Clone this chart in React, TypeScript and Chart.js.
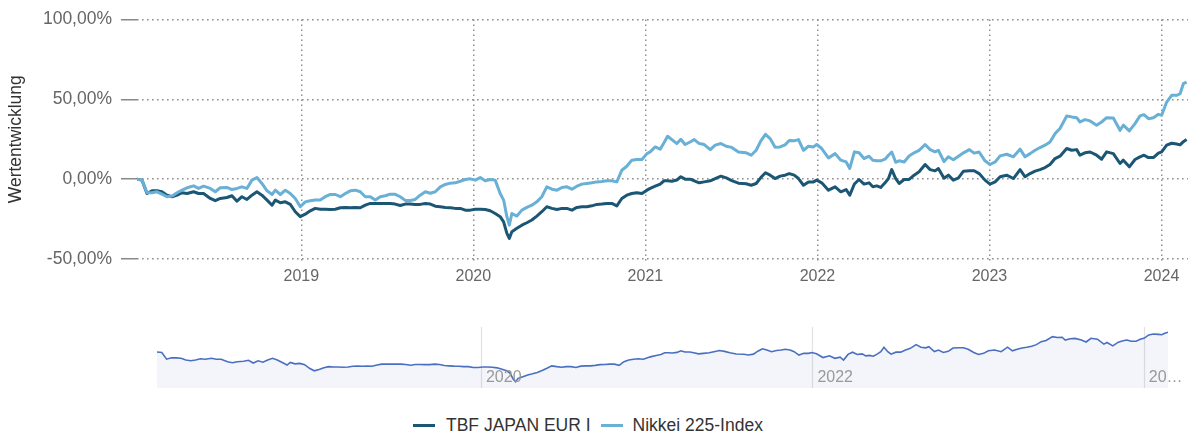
import React, { useEffect, useRef } from "react";
import { Chart, registerables } from "chart.js";

Chart.register(...registerables);

const FONT = "'Liberation Sans', Arial, Helvetica, sans-serif";

// x positions as fractional years
const dates: number[] = [
  2018.045, 2018.074, 2018.103, 2018.132, 2018.161, 2018.19, 2018.219, 2018.249, 2018.278, 2018.307,
  2018.336, 2018.374, 2018.403, 2018.432, 2018.471, 2018.5, 2018.529, 2018.568, 2018.597, 2018.626,
  2018.655, 2018.684, 2018.713, 2018.742, 2018.771, 2018.801, 2018.83, 2018.849, 2018.878, 2018.907,
  2018.936, 2018.965, 2018.994, 2019.023, 2019.052,
  2019.081, 2019.11, 2019.139, 2019.169, 2019.198, 2019.227, 2019.256, 2019.285, 2019.314, 2019.343,
  2019.372, 2019.401, 2019.43, 2019.459, 2019.488, 2019.517, 2019.546, 2019.575, 2019.604, 2019.633,
  2019.662, 2019.691, 2019.721, 2019.75, 2019.779, 2019.808, 2019.837, 2019.866, 2019.895, 2019.924,
  2019.953, 2019.982, 2020.011,
  2020.04, 2020.069, 2020.098, 2020.127, 2020.156, 2020.176, 2020.195, 2020.209, 2020.224, 2020.253,
  2020.282, 2020.311, 2020.34, 2020.369, 2020.398, 2020.427, 2020.457, 2020.486, 2020.515, 2020.544,
  2020.573, 2020.602, 2020.631, 2020.66, 2020.689, 2020.718, 2020.747, 2020.776, 2020.805, 2020.834,
  2020.863, 2020.892, 2020.921, 2020.95, 2020.98, 2021.009,
  2021.028, 2021.057, 2021.086, 2021.109, 2021.129, 2021.154, 2021.183, 2021.206, 2021.231, 2021.26,
  2021.284, 2021.313, 2021.342, 2021.377, 2021.406, 2021.439, 2021.47, 2021.502, 2021.541, 2021.586,
  2021.615, 2021.644, 2021.671, 2021.698, 2021.725, 2021.754, 2021.783, 2021.812, 2021.836, 2021.865,
  2021.89, 2021.919, 2021.948, 2021.977,
  2021.996, 2022.025, 2022.064, 2022.103, 2022.136, 2022.167, 2022.188, 2022.215, 2022.242, 2022.271,
  2022.3, 2022.322, 2022.345, 2022.368, 2022.393, 2022.413, 2022.432, 2022.455, 2022.475, 2022.504,
  2022.533, 2022.562, 2022.591, 2022.626, 2022.655, 2022.684, 2022.703, 2022.736, 2022.761, 2022.79,
  2022.82, 2022.849, 2022.883, 2022.911, 2022.94,
  2022.974, 2023.003, 2023.033, 2023.062, 2023.1, 2023.139, 2023.178, 2023.207, 2023.236, 2023.265,
  2023.294, 2023.323, 2023.352, 2023.381, 2023.41, 2023.449, 2023.478, 2023.507, 2023.526, 2023.555,
  2023.585, 2023.623, 2023.652, 2023.681, 2023.72, 2023.759, 2023.778, 2023.813, 2023.846, 2023.875,
  2023.898, 2023.924, 2023.953, 2023.982, 2024.001, 2024.03, 2024.059, 2024.088, 2024.108, 2024.127,
  2024.146,
];

const tbfValues: number[] = [
  0, -0.6, -9.0, -7.3, -7.3, -7.9, -10.0, -11.0, -10.0, -8.5,
  -9.0, -7.9, -9.0, -9.0, -12.1, -13.5, -12.1, -11.5, -10.4, -13.8,
  -11.0, -12.7, -10.0, -7.9, -10.0, -13.1, -16.3, -13.1, -14.8, -14.2,
  -15.8, -20.4, -23.5, -21.9, -19.8,
  -18.3, -18.8, -18.8, -19.0, -18.8, -17.9, -17.7, -17.9, -17.7, -17.9,
  -16.3, -15.2, -15.2, -15.2, -15.2, -15.2, -15.6, -16.5, -15.6, -15.6,
  -15.8, -15.8, -15.2, -15.6, -16.9, -17.3, -17.7, -17.9, -18.3, -18.3,
  -19.4, -19.4, -18.8,
  -18.8, -19.0, -19.8, -21.5, -23.5, -26.7, -34.0, -37.1, -32.9, -30.8,
  -28.8, -27.3, -25.6, -23.1, -20.4, -17.3, -18.3, -19.0, -18.3, -18.3,
  -19.4, -17.7, -17.3, -17.3, -16.7, -15.8, -15.6, -15.2, -15.2, -16.7,
  -12.1, -10.0, -9.0, -8.5, -9.0, -6.9,
  -5.8, -4.4, -3.1, -1.0, -1.0, -1.3, -0.5, 1.5, 0, 0,
  -1.0, -2.3, -1.7, -1.0, 0.4, 1.9, 0.8, -0.9, -2.5, -2.9,
  -3.8, -2.7, 1.0, 4.0, 2.5, 0.4, 1.9, 2.5, 3.5, 2.5,
  0.4, -3.8, -1.7, -1.7,
  -0.6, -2.3, -6.9, -4.8, -7.9, -6.5, -10.0, -3.0, -0.2, -3.1,
  -2.3, -4.8, -4.2, -5.2, -2.3, 0.4, 6.0, 0.4, -2.7, -0.2,
  -0.2, 2.5, 4.6, 9.2, 6.0, 5.2, 6.7, 0.6, 2.5, -0.6,
  0.8, 5.0, 5.3, 5.3, 3.5,
  -0.6, -3.1, -1.7, 1.5, 2.5, 0.4, 6.0, 1.5, 3.5, 5.0,
  6.0, 7.3, 9.2, 12.9, 14.4, 19.2, 18.1, 18.5, 15.0, 16.5,
  17.0, 15.0, 12.5, 17.1, 16.0, 9.8, 11.9, 7.7, 12.3, 14.0,
  15.0, 13.5, 13.5, 16.3, 17.1, 21.3, 22.5, 22.0, 21.5, 23.5,
  24.8,
];

const nikkeiValues: number[] = [
  0, -0.6, -8.5, -8.5, -7.9, -9.4, -11.0, -10.6, -8.5, -6.9,
  -5.4, -4.2, -5.8, -4.4, -5.8, -7.9, -5.4, -5.2, -6.5, -5.8,
  -4.8, -5.8, -0.6, 1.0, -2.7, -7.3, -9.6, -6.9, -9.6, -6.9,
  -9.0, -12.1, -17.3, -14.2, -13.5,
  -13.1, -13.1, -11.0, -9.6, -9.6, -11.0, -9.0, -7.3, -6.9, -7.9,
  -11.0, -11.0, -13.1, -11.0, -10.4, -9.4, -9.5, -11.0, -13.3, -13.3,
  -12.7, -10.0, -7.9, -8.8, -7.9, -4.8, -3.3, -2.5, -2.3, -1.3,
  -0.2, 0.2, -0.6,
  1.0, -1.0, -0.2, -0.6, -9.0, -13.1, -23.5, -28.8, -21.5, -23.1,
  -19.4, -17.7, -16.3, -14.2, -11.0, -4.8, -6.3, -6.9, -5.2, -4.8,
  -6.3, -4.4, -3.1, -2.7, -2.3, -1.7, -1.5, -1.0, -1.0, -1.7,
  5.6, 8.1, 11.9, 12.3, 12.3, 16.0,
  17.1, 20.2, 18.8, 23.0, 26.9, 24.8, 22.3, 25.0, 21.7, 23.3,
  24.8, 22.3, 21.7, 18.5, 21.3, 22.3, 20.6, 19.9, 17.0, 16.5,
  15.0, 18.1, 24.0, 28.1, 25.4, 20.0, 20.2, 21.5, 24.2, 24.0,
  24.8, 18.1, 20.6, 20.2,
  21.7, 19.2, 13.3, 16.0, 11.9, 10.8, 6.7, 17.1, 16.5, 12.9,
  14.4, 11.9, 11.5, 11.5, 12.5, 15.0, 17.0, 10.6, 11.5, 10.8,
  14.5, 16.5, 18.0, 21.7, 18.5, 17.1, 18.1, 11.0, 14.0, 12.2,
  14.4, 16.5, 18.5, 16.3, 17.0,
  11.5, 9.2, 10.8, 14.6, 15.6, 14.0, 18.8, 14.0, 16.0, 18.1,
  19.8, 21.3, 23.3, 28.5, 31.7, 39.6, 39.0, 38.5, 35.8, 37.3,
  36.5, 33.8, 35.8, 38.5, 38.3, 30.6, 33.8, 30.2, 34.8, 39.6,
  40.4, 37.9, 38.5, 40.6, 40.0, 48.3, 52.5, 52.5, 53.5, 59.8,
  60.8,
];

const seriesNames = ["TBF JAPAN EUR I", "Nikkei 225-Index"];
const seriesColors = ["#1b5674", "#68b0d6"];
const yAxisTitle = "Wertentwicklung";
const yTickValues = [-50, 0, 50, 100];
const xTickYears = [2019, 2020, 2021, 2022, 2023, 2024];
const navTickYears = [2020, 2022, 2024];
const navTickLabels = ["2020", "2022", "20…"];

const X_MIN = 2018.045;
const X_MAX = 2024.154;
const NAV_X_MAX = 2024.146;

const fmtPct = (v: number) => v.toFixed(2).replace(".", ",") + "%";

const GRID_DASH = [1.6, 3.4];
const GRID_COLOR = "#8f8f8f";

export default function App() {
  const mainRef = useRef<HTMLCanvasElement>(null);
  const navRef = useRef<HTMLCanvasElement>(null);

  useEffect(() => {
    const toPts = (vals: number[]) => vals.map((v, i) => ({ x: dates[i], y: v }));

    const main = new Chart(mainRef.current as HTMLCanvasElement, {
      type: "line",
      data: {
        datasets: [
          {
            label: seriesNames[1],
            data: toPts(nikkeiValues),
            borderColor: seriesColors[1],
            backgroundColor: seriesColors[1],
            borderWidth: 3,
            pointRadius: 0,
            tension: 0,
            borderJoinStyle: "round",
            order: 0,
          },
          {
            label: seriesNames[0],
            data: toPts(tbfValues),
            borderColor: seriesColors[0],
            backgroundColor: seriesColors[0],
            borderWidth: 3,
            pointRadius: 0,
            tension: 0,
            borderJoinStyle: "round",
            order: 1,
          },
        ],
      },
      options: {
        animation: false,
        responsive: false,
        events: [],
        layout: { padding: { top: 19, right: 2, bottom: 0, left: 0 } },
        plugins: { legend: { display: false }, tooltip: { enabled: false } },
        scales: {
          x: {
            type: "linear",
            min: X_MIN,
            max: X_MAX,
            afterBuildTicks: (ax: any) => {
              ax.ticks = xTickYears.map((v) => ({ value: v }));
            },
            afterFit: (ax: any) => {
              ax.height = 41;
            },
            ticks: {
              autoSkip: false,
              maxRotation: 0,
              padding: 5,
              color: "#666",
              font: { size: 16, family: FONT },
              callback: (v: any) => String(v),
            },
            grid: {
              color: GRID_COLOR,
              lineWidth: 1.5,
              tickLength: 3,
              tickColor: GRID_COLOR,
              tickWidth: 1.5,
              tickBorderDash: GRID_DASH,
            },
            border: { display: false, dash: GRID_DASH },
          },
          y: {
            type: "linear",
            min: -50,
            max: 100,
            afterBuildTicks: (ax: any) => {
              ax.ticks = yTickValues.map((v) => ({ value: v }));
            },
            afterFit: (ax: any) => {
              ax.width = 137;
            },
            ticks: {
              padding: 9,
              color: "#666",
              font: { size: 17.5, family: FONT },
              callback: (v: any) => fmtPct(Number(v)),
            },
            grid: {
              color: GRID_COLOR,
              lineWidth: 1.5,
              tickLength: 16,
              tickColor: "#888",
              tickWidth: 1.5,
              tickBorderDash: [],
            },
            border: { display: false, dash: GRID_DASH },
            title: {
              display: true,
              text: yAxisTitle,
              color: "#333",
              font: { size: 17.5, family: FONT },
              padding: { top: 6, bottom: 0 },
            },
          },
        },
      } as any,
    });

    const navPlugin = {
      id: "navGrid",
      beforeDatasetsDraw(chart: any) {
        const { ctx, chartArea, scales } = chart;
        ctx.save();
        ctx.strokeStyle = "#e2e2e2";
        ctx.lineWidth = 1.2;
        navTickYears.forEach((v) => {
          const x = Math.round(scales.x.getPixelForValue(v)) + 0.5;
          ctx.beginPath();
          ctx.moveTo(x, chartArea.top);
          ctx.lineTo(x, chartArea.bottom);
          ctx.stroke();
        });
        ctx.restore();
      },
      afterDatasetsDraw(chart: any) {
        const { ctx, chartArea, scales } = chart;
        ctx.save();
        ctx.fillStyle = "#999";
        ctx.font = `16px ${FONT}`;
        ctx.textAlign = "left";
        ctx.textBaseline = "alphabetic";
        navTickYears.forEach((v, i) => {
          const x = scales.x.getPixelForValue(v);
          ctx.fillText(navTickLabels[i], x + 5, chartArea.bottom - 6);
        });
        ctx.restore();
      },
    };

    const nav = new Chart(navRef.current as HTMLCanvasElement, {
      type: "line",
      data: {
        datasets: [
          {
            label: seriesNames[0],
            data: toPts(tbfValues),
            borderColor: "#4a6fc1",
            backgroundColor: "rgba(51,92,173,0.06)",
            borderWidth: 1.6,
            pointRadius: 0,
            tension: 0,
            fill: "start",
          },
        ],
      },
      options: {
        animation: false,
        responsive: false,
        events: [],
        layout: { padding: { left: 157, right: 22, top: 27, bottom: 12 } },
        plugins: { legend: { display: false }, tooltip: { enabled: false } },
        scales: {
          x: { type: "linear", display: false, min: X_MIN, max: NAV_X_MAX },
          y: { type: "linear", display: false, min: -45, max: 31.25 },
        },
      } as any,
      plugins: [navPlugin],
    });

    return () => {
      main.destroy();
      nav.destroy();
    };
  }, []);

  const legendText: React.CSSProperties = {
    fontFamily: FONT,
    fontSize: "17.5px",
    color: "#333",
    lineHeight: "21px",
    whiteSpace: "nowrap",
  };
  const sym = (c: string): React.CSSProperties => ({
    display: "inline-block",
    width: 22,
    height: 3,
    background: c,
    marginRight: 11,
  });

  return (
    <div
      style={{
        position: "absolute",
        left: 0,
        top: 0,
        width: 1190,
        height: 437,
        background: "#fff",
        overflow: "hidden",
      }}
    >
      <canvas
        ref={mainRef}
        width={1190}
        height={300}
        style={{ position: "absolute", left: 0, top: 0, width: 1190, height: 300 }}
      />
      <canvas
        ref={navRef}
        width={1190}
        height={100}
        style={{ position: "absolute", left: 0, top: 300, width: 1190, height: 100 }}
      />
      <div
        style={{
          position: "absolute",
          left: 413,
          top: 415,
          display: "flex",
          alignItems: "center",
        }}
      >
        <span style={sym(seriesColors[0])} />
        <span style={{ ...legendText, marginRight: 10 }}>{seriesNames[0]}</span>
        <span style={{ ...sym(seriesColors[1]), marginRight: 10 }} />
        <span style={legendText}>{seriesNames[1]}</span>
      </div>
    </div>
  );
}
